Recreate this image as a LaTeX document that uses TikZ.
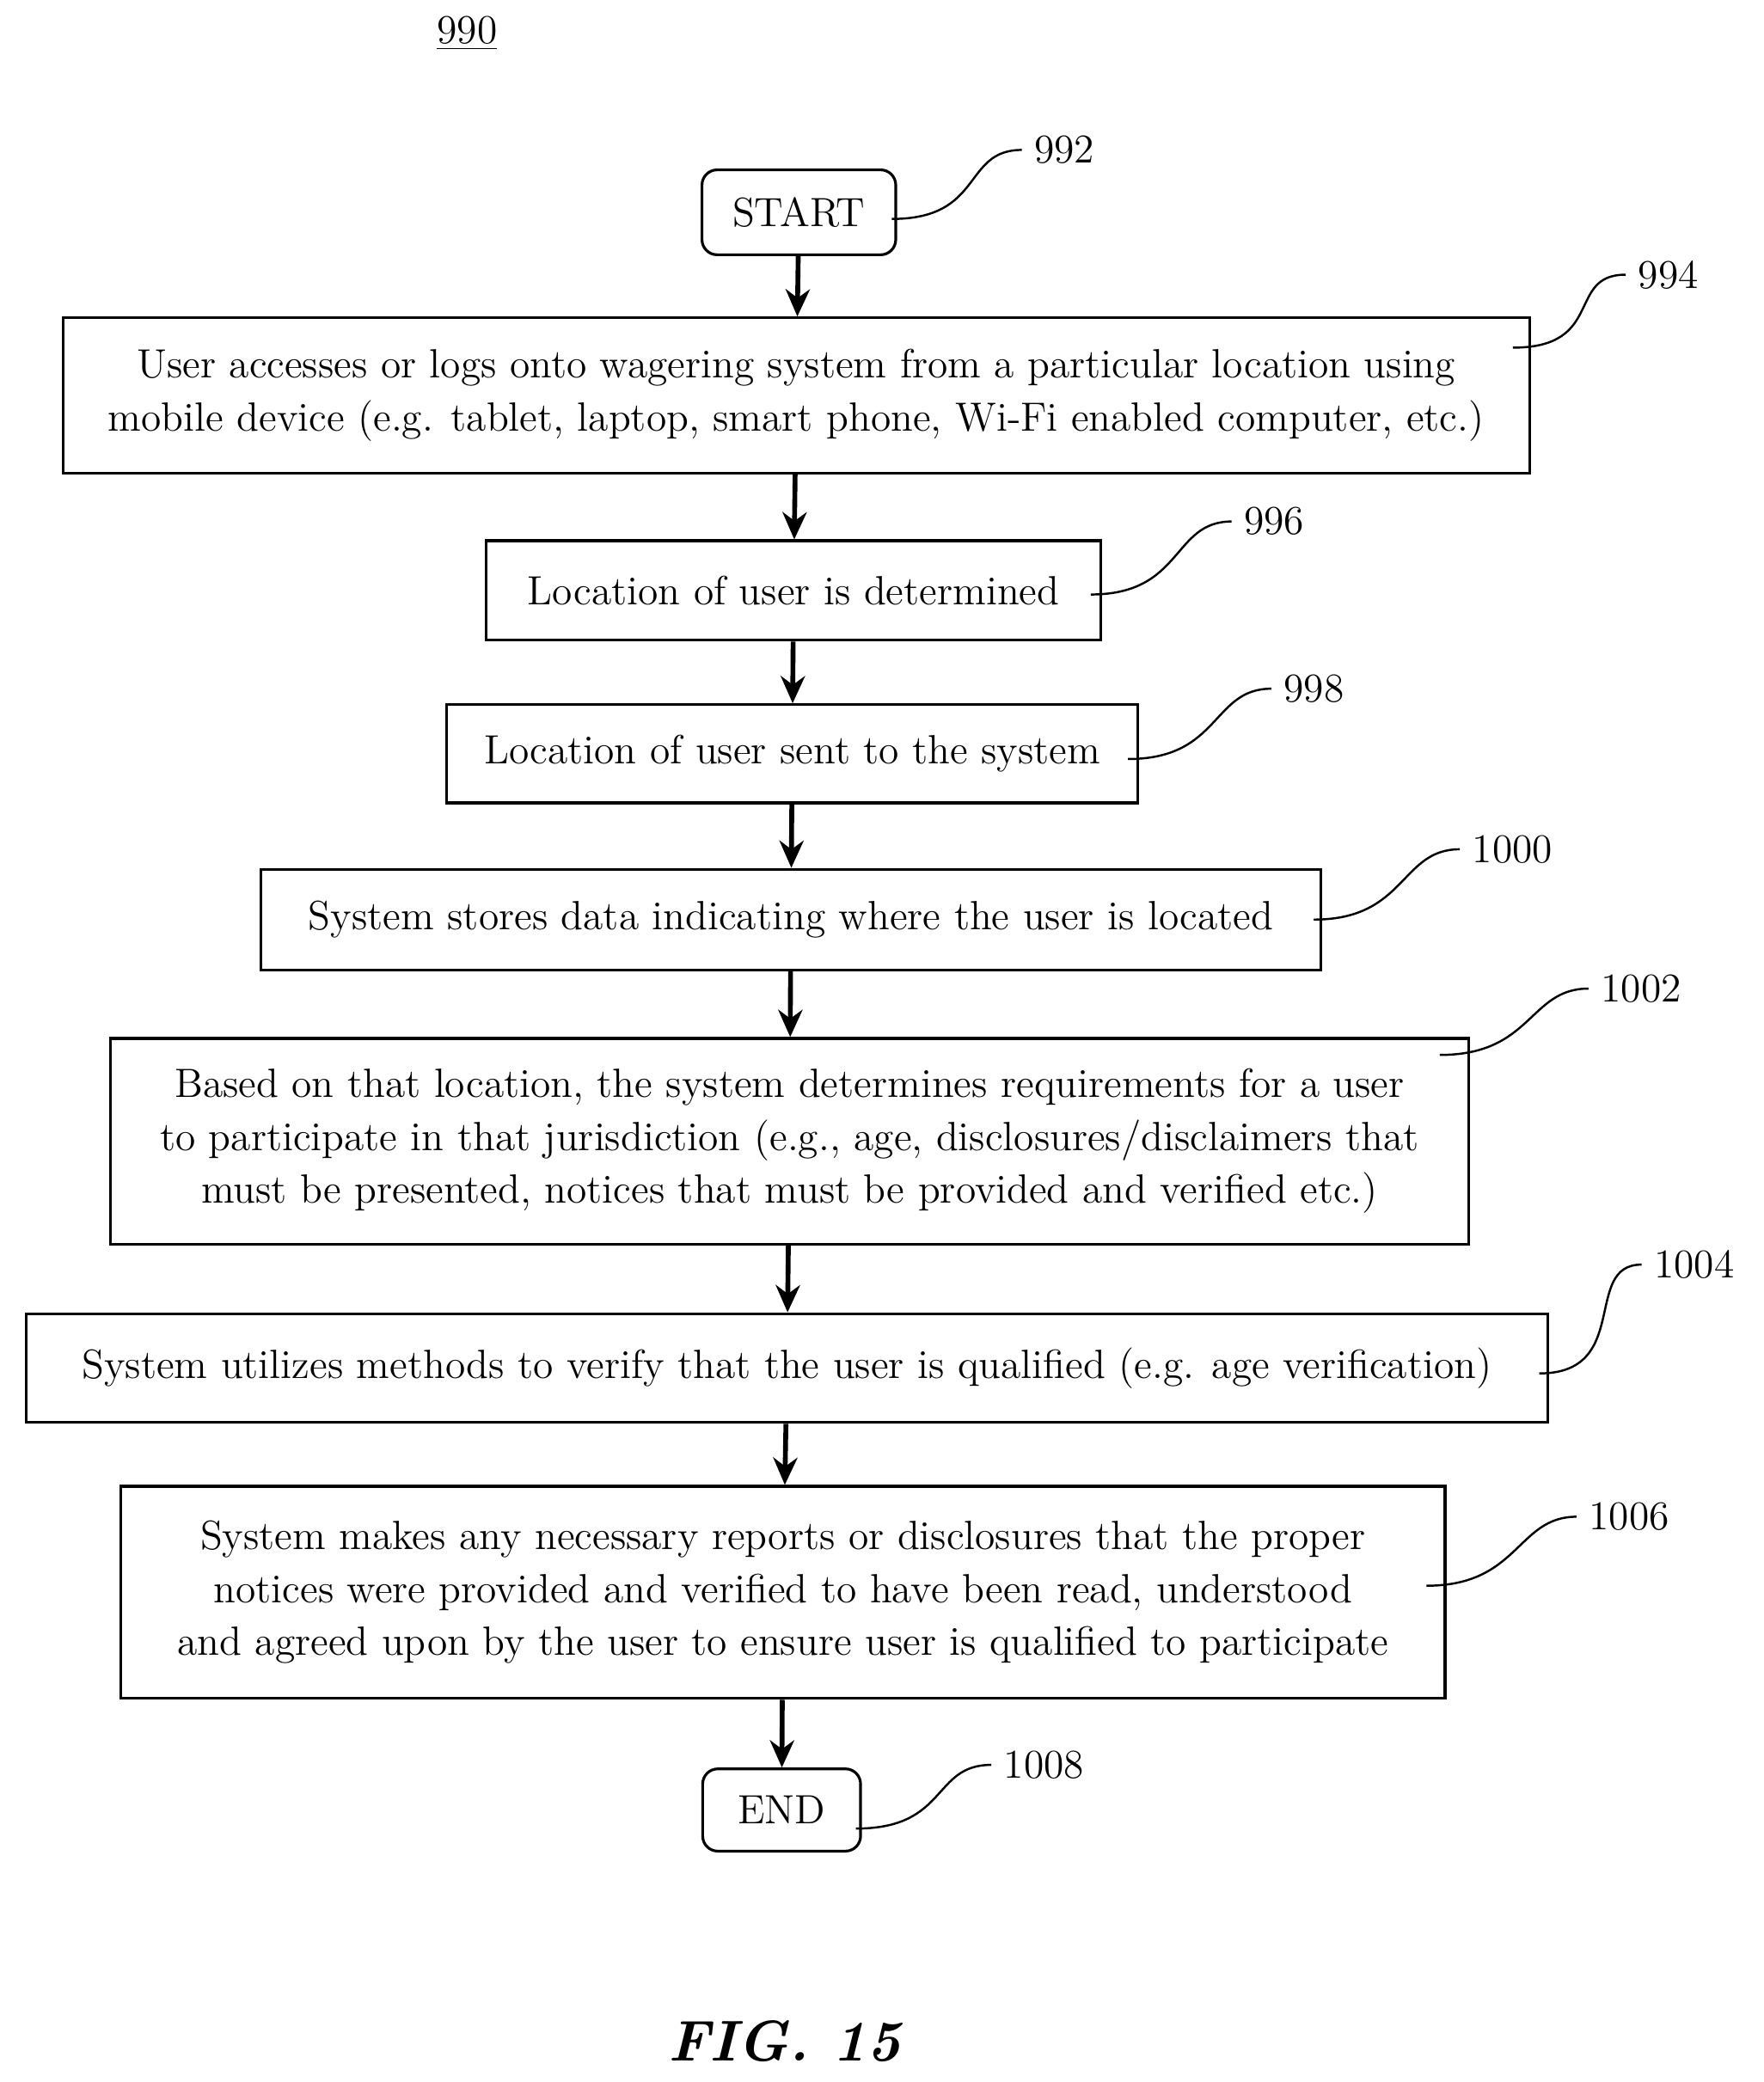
\documentclass[tikz,border=0pt]{standalone}
\usepackage{tikz}
\usetikzlibrary{arrows.meta,positioning}
\tikzset{stage/.style={draw,line width=0.9pt,inner sep=0pt,align=center,font=\fontsize{13.5}{17.5}\selectfont}}
\tikzset{term/.style={stage,rounded corners=5pt}}
\tikzset{flow/.style={draw,line width=1.6pt,-{Stealth[length=9pt,width=8pt]}}}
\tikzset{ref/.style={font=\fontsize{13.5}{15}\selectfont,anchor=west,inner sep=4pt}}
\tikzset{lead/.style={draw,line width=0.7pt}}

\begin{document}
\begin{tikzpicture}[x=0.01543cm,y=-0.01543cm]
    \useasboundingbox (0,0) rectangle (1329,1569);
    \node[font=\fontsize{13.5}{15}\selectfont] (fignum) at (352,25) {\underline{990}};

    \node[term,minimum width=146*0.01543cm,minimum height=64*0.01543cm] (start) at (602,160) {START};
    \node[stage,minimum width=1105*0.01543cm,minimum height=117*0.01543cm] (s994) at (600,298) {User accesses or logs onto wagering system from a particular location using\\ mobile device (e.g. tablet, laptop, smart phone, Wi-Fi enabled computer, etc.)};
    \node[stage,minimum width=463*0.01543cm,minimum height=75*0.01543cm] (s996) at (598,445) {Location of user is determined};
    \node[stage,minimum width=521*0.01543cm,minimum height=74*0.01543cm] (s998) at (597,568) {Location of user sent to the system};
    \node[stage,minimum width=799*0.01543cm,minimum height=76*0.01543cm] (s1000) at (596,693) {System stores data indicating where the user is located};
    \node[stage,minimum width=1024*0.01543cm,minimum height=155*0.01543cm] (s1002) at (595,860) {Based on that location, the system determines requirements for a user\\ to participate in that jurisdiction (e.g., age, disclosures/disclaimers that\\ must be presented, notices that must be provided and verified etc.)};
    \node[stage,minimum width=1147*0.01543cm,minimum height=82*0.01543cm] (s1004) at (593,1031) {System utilizes methods to verify that the user is qualified (e.g. age verification)};
    \node[stage,minimum width=998*0.01543cm,minimum height=160*0.01543cm] (s1006) at (590,1200) {System makes any necessary reports or disclosures that the proper\\ notices were provided and verified to have been read, understood\\ and agreed upon by the user to ensure user is qualified to participate};
    \node[term,minimum width=119*0.01543cm,minimum height=62*0.01543cm] (end) at (589,1364) {END};

    \node[font=\bfseries\itshape\fontsize{19}{22}\selectfont] (caption) at (591,1538) {FIG. 15};

    % reference numerals
    \node[ref] (l992) at (770,113) {992};
    \node[ref] (l994) at (1225,207) {994};
    \node[ref] (l996) at (928,393) {996};
    \node[ref] (l998) at (958,519) {998};
    \node[ref] (l1000) at (1100,640) {1000};
    \node[ref] (l1002) at (1197,745) {1002};
    \node[ref] (l1004) at (1237,953) {1004};
    \node[ref] (l1006) at (1188,1143) {1006};
    \node[ref] (l1008) at (747,1330) {1008};

    \coordinate (c992) at (672,165);
    \coordinate (c994) at (1140,262);
    \coordinate (c996) at (822,448);
    \coordinate (c998) at (850,572);
    \coordinate (c1000) at (990,693);
    \coordinate (c1002) at (1085,795);
    \coordinate (c1004) at (1160,1035);
    \coordinate (c1006) at (1075,1195);
    \coordinate (c1008) at (645,1378);

    \foreach \n in {992,994,996,998,1000,1002,1004,1006,1008}
        \path[lead] (c\n) .. controls +(70,0) and +(-45,0) .. (l\n.west);

    \path[flow] (start) -- (s994);
    \path[flow] (s994) -- (s996);
    \path[flow] (s996) -- (s998);
    \path[flow] (s998) -- (s1000);
    \path[flow] (s1000) -- (s1002);
    \path[flow] (s1002) -- (s1004);
    \path[flow] (s1004) -- (s1006);
    \path[flow] (s1006) -- (end);
\end{tikzpicture}
\end{document}
